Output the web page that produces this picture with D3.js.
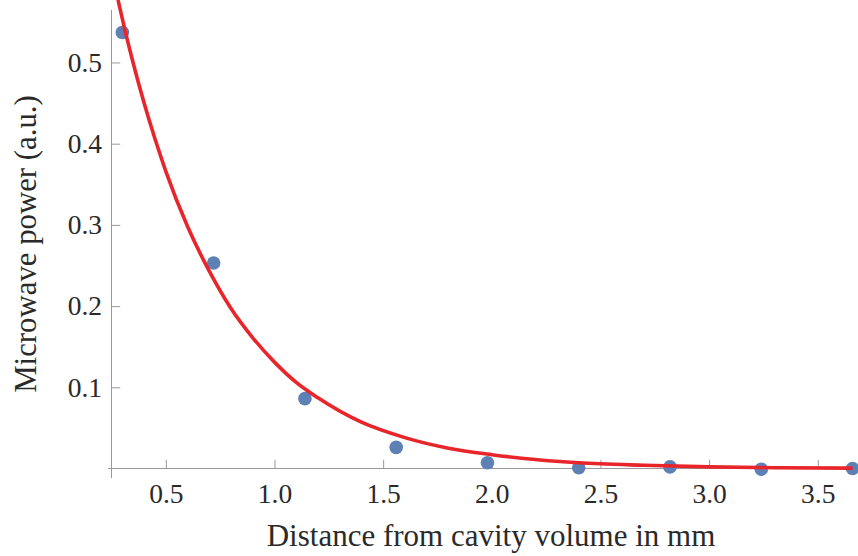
<!DOCTYPE html>
<html>
<head>
<meta charset="utf-8">
<script src="https://cdn.jsdelivr.net/npm/d3@7"></script>
<style>
  body { margin: 0; background: #fff; }
</style>
</head>
<body>
<div id="chart"></div>
<script>
// measured points (blue dots)
const distance = [0.30, 0.72, 1.14, 1.56, 1.98, 2.40, 2.82, 3.24, 3.66];
const power = [0.537, 0.253, 0.086, 0.026, 0.007, 0.001, 0.002, -0.001, 0.000];

// red fit curve
const fitDistance = [0.28, 0.31, 0.35, 0.40, 0.45, 0.50, 0.60, 0.70, 0.80, 0.90, 1.00, 1.10, 1.20, 1.40, 1.60, 1.80, 2.00, 2.20, 2.40, 2.70, 3.00, 3.30, 3.66];
const fitPower = [0.577, 0.542, 0.499, 0.450, 0.406, 0.366, 0.298, 0.243, 0.197, 0.161, 0.131, 0.106, 0.087, 0.057, 0.038, 0.025, 0.017, 0.011, 0.007, 0.004, 0.002, 0.001, 0.0005];

// tick labels
const xTickValues = [0.5, 1.0, 1.5, 2.0, 2.5, 3.0, 3.5];
const yTickValues = [0.1, 0.2, 0.3, 0.4, 0.5];

const xTitle = "Distance from cavity volume in mm";
const yTitle = "Microwave power (a.u.)";

function drawChart() {
  const width = 858;
  const height = 556;
  const axisColor = "#999";
  const textColor = "#2a2a2a";
  const serif = "Tinos, 'Liberation Serif', 'Noto Serif', 'DejaVu Serif', 'Times New Roman', Times, serif";

  const svg = d3.select("#chart")
    .append("svg")
    .attr("width", width)
    .attr("height", height)
    .style("display", "block");

  const x = d3.scaleLinear().domain([0.25, 3.68]).range([111.5, 856.9]);
  const y = d3.scaleLinear().domain([0, 0.564]).range([468.5, 10.5]);

  //minor ticks every 0.1 / 0.02, skipping the major ones
  const isMajor = (v) => Math.abs(v * 2 - Math.round(v * 2)) < 1e-6;
  const xMinor = d3.range(0.3, 3.65, 0.1).filter((v) => !isMajor(v));
  const yMinor = d3.range(0.02, 0.565, 0.02).filter((v) => Math.abs(v * 10 - Math.round(v * 10)) > 1e-6);

  // axis lines (they cross and run a bit past each other)
  svg.append("line")
    .attr("x1", 108).attr("x2", width)
    .attr("y1", y(0)).attr("y2", y(0))
    .attr("stroke", axisColor);

  svg.append("line")
    .attr("x1", x(0.25)).attr("x2", x(0.25))
    .attr("y1", 10).attr("y2", 478)
    .attr("stroke", axisColor);

  // x axis
  const gx = svg.append("g").attr("transform", "translate(0," + y(0) + ")");
  gx.call(d3.axisBottom(x).tickValues(xMinor).tickSize(-5.3).tickFormat(""));
  gx.call(d3.axisBottom(x).tickValues(xTickValues).tickSize(-8.7).tickPadding(14.5).tickFormat(d3.format(".1f")));

  // y axis
  const gy = svg.append("g").attr("transform", "translate(" + x(0.25) + ",0)");
  gy.call(d3.axisLeft(y).tickValues(yMinor).tickSize(-5.3).tickFormat(""));
  gy.call(d3.axisLeft(y).tickValues(yTickValues).tickSize(-8.7).tickPadding(9.5).tickFormat(d3.format(".1f")));

  svg.selectAll(".domain").remove();
  svg.selectAll("g").attr("font-family", serif);
  svg.selectAll(".tick line").attr("stroke", axisColor);
  svg.selectAll(".tick text")
    .attr("fill", textColor)
    .attr("font-size", 27.5)
    .style("font-family", serif);

  // points
  svg.append("g")
    .selectAll("circle")
    .data(distance.map((d, i) => ({ x: d, y: power[i] })))
    .join("circle")
    .attr("cx", (d) => x(d.x))
    .attr("cy", (d) => y(d.y))
    .attr("r", 6.8)
    .attr("fill", "#5e81b5");

  // fit curve on top
  const line = d3.line()
    .x((d) => x(d[0]))
    .y((d) => y(d[1]))
    .curve(d3.curveMonotoneX);

  svg.append("path")
    .datum(fitDistance.map((d, i) => [d, fitPower[i]]))
    .attr("d", line)
    .attr("fill", "none")
    .attr("stroke", "#e8252b")
    .attr("stroke-width", 3.6);

  // titles
  svg.append("text")
    .attr("x", 491)
    .attr("y", 546)
    .attr("text-anchor", "middle")
    .attr("fill", textColor)
    .style("font-family", serif)
    .attr("font-size", 31)
    .text(xTitle);

  svg.append("text")
    .attr("transform", "translate(36,244) rotate(-90)")
    .attr("text-anchor", "middle")
    .attr("fill", textColor)
    .style("font-family", serif)
    .attr("font-size", 30.8)
    .text(yTitle);
}

drawChart();
</script>
</body>
</html>
